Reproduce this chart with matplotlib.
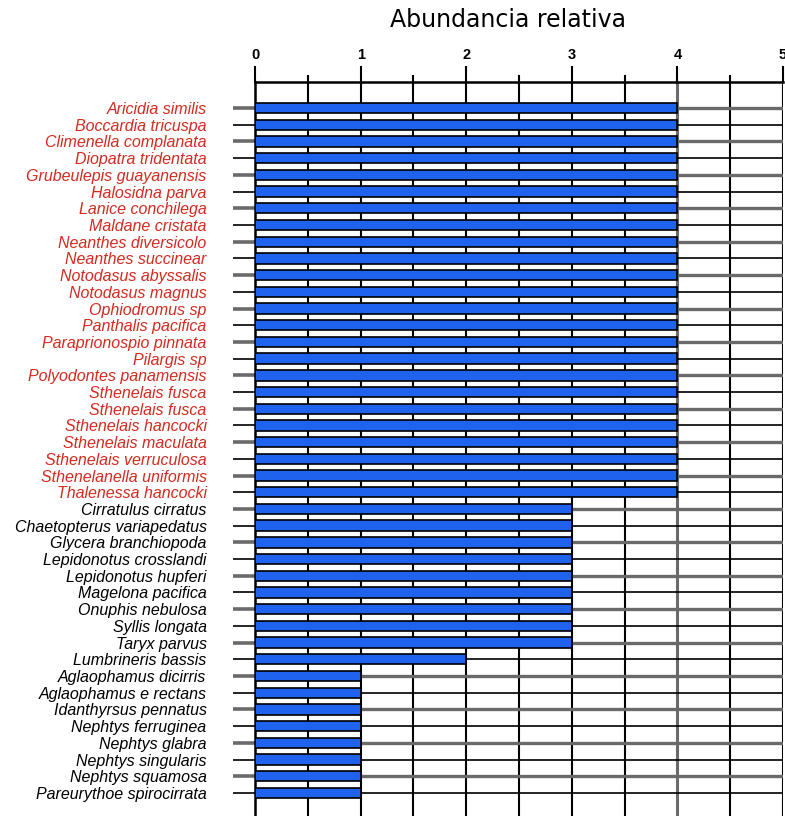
import matplotlib.pyplot as plt
from matplotlib.ticker import MultipleLocator

especies = [
    'Aricidia similis', 'Boccardia tricuspa', 'Climenella complanata',
    'Diopatra tridentata', 'Grubeulepis guayanensis', 'Halosidna parva',
    'Lanice conchilega', 'Maldane cristata', 'Neanthes diversicolo',
    'Neanthes succinear', 'Notodasus abyssalis', 'Notodasus magnus',
    'Ophiodromus sp', 'Panthalis pacifica', 'Paraprionospio pinnata',
    'Pilargis sp', 'Polyodontes panamensis', 'Sthenelais fusca',
    'Sthenelais fusca', 'Sthenelais hancocki', 'Sthenelais maculata',
    'Sthenelais verruculosa', 'Sthenelanella uniformis', 'Thalenessa hancocki',
    'Cirratulus cirratus', 'Chaetopterus variapedatus', 'Glycera branchiopoda',
    'Lepidonotus crosslandi', 'Lepidonotus hupferi', 'Magelona pacifica',
    'Onuphis nebulosa', 'Syllis longata', 'Taryx parvus',
    'Lumbrineris bassis', 'Aglaophamus dicirris', 'Aglaophamus e rectans',
    'Idanthyrsus pennatus', 'Nephtys ferruginea', 'Nephtys glabra',
    'Nephtys singularis', 'Nephtys squamosa', 'Pareurythoe spirocirrata',
]
abundancia = [4] * 24 + [3] * 9 + [2] + [1] * 8
# las primeras 24 especies van en rojo
n_rojas = 24

plt.rcParams['font.family'] = ['Liberation Sans', 'DejaVu Sans']

fig = plt.figure(figsize=(7.85, 8.16), dpi=100)
ax = fig.add_axes([0.325, 0.0, 0.6725, 0.8995])

y = list(range(len(especies)))
ax.barh(y, abundancia, height=0.62, color='#1f62ee', edgecolor='black',
        linewidth=1.2, zorder=3)

ax.set_xlim(0, 5)
ax.set_ylim(len(especies) - 1 + 1.38, -1.56)

ax.xaxis.tick_top()
ax.xaxis.set_major_locator(MultipleLocator(1))
ax.xaxis.set_minor_locator(MultipleLocator(0.5))
ax.tick_params(axis='x', which='major', length=11.5, width=1.5, pad=3,
               labelsize=10.5, colors='black')
ax.tick_params(axis='x', which='minor', length=5, width=1.5)
for lab in ax.get_xticklabels():
    lab.set_fontweight('bold')

ax.set_yticks(y)
ax.set_yticklabels(especies, fontsize=11.5, style='italic')
ax.tick_params(axis='y', length=16, width=1.5, pad=19)
for i, lab in enumerate(ax.get_yticklabels()):
    lab.set_color('#d42a20' if i < n_rojas else 'black')

ax.grid(axis='x', which='both', color='black', linewidth=1.5, zorder=0)
# la linea vertical en 4 se ve gris
for gl in ax.get_xgridlines():
    if abs(gl.get_xdata()[0] - 4) < 1e-6:
        gl.set_color('#6a6a6a')
        gl.set_linewidth(2.2)
ax.grid(axis='y', which='major', zorder=0)
for i, gl in enumerate(ax.get_ygridlines()):
    if i % 2 == 0:
        gl.set_color('#6a6a6a')
        gl.set_linewidth(2.4)
    else:
        gl.set_color('black')
        gl.set_linewidth(1.2)
for i, t in enumerate(ax.yaxis.get_major_ticks()):
    if i % 2 == 0:
        t.tick1line.set_markeredgecolor('#6a6a6a')
        t.tick1line.set_markeredgewidth(2.6)
    else:
        t.tick1line.set_markeredgecolor('black')
        t.tick1line.set_markeredgewidth(1.2)
ax.set_axisbelow(True)

for s in ['right', 'bottom']:
    ax.spines[s].set_visible(False)
ax.spines['top'].set_linewidth(1.8)
ax.spines['left'].set_linewidth(1.8)

fig.text(0.647, 0.975, 'Abundancia relativa', ha='center', va='center',
         fontsize=17, family='DejaVu Sans')

fig.savefig('out.png', dpi=100)
